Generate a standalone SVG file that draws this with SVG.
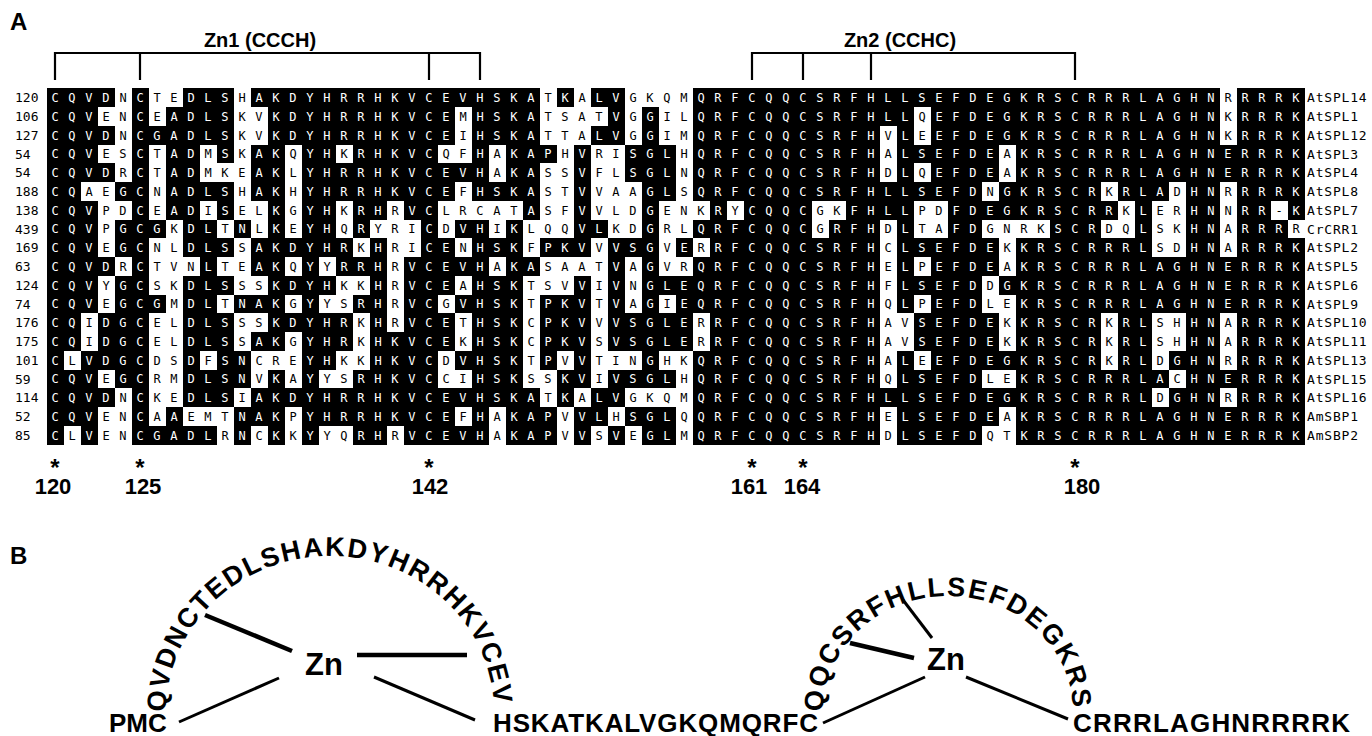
<svg xmlns="http://www.w3.org/2000/svg" width="1372" height="736" viewBox="0 0 1372 736">
<style>
.bg{fill:#fff}
.bk rect{fill:#000;shape-rendering:crispEdges}
.seq{font-family:"DejaVu Sans Mono","Liberation Mono",monospace;font-size:12px;letter-spacing:9.775px;fill:#000}
.w{fill:#fff}
.num{font-family:"DejaVu Sans Mono","Liberation Mono",monospace;font-size:13px;fill:#000}
.name{font-family:"DejaVu Sans Mono","Liberation Mono",monospace;font-size:13px;letter-spacing:0.8px;fill:#000}
.lbl{font-family:"Liberation Sans",Arial,sans-serif;font-weight:bold;fill:#000}
.br{stroke:#000;stroke-width:2.2;fill:none}
.thick{stroke:#000;stroke-width:4.5;fill:none}
.thin{stroke:#000;stroke-width:3;fill:none}
</style>
<rect class="bg" x="0" y="0" width="1372" height="736"/>
<text class="lbl" x="10" y="30" font-size="24">A</text>
<g id="zn1-bracket">
<text class="lbl" x="260" y="47" font-size="20" text-anchor="middle">Zn1 (CCCH)</text>
<path class="br" d="M55 80V53H480V80M140 53V80M429 53V80"/>
</g>
<g id="zn2-bracket">
<text class="lbl" x="900" y="47" font-size="20" text-anchor="middle">Zn2 (CCHC)</text>
<path class="br" d="M752 80V53H1075V80M803 53V80M871 53V80"/>
</g>
<g id="alignment">
<g id="r1" transform="translate(46.5 88.3)"><g class="bk"><rect x="0" width="68" height="18.8"/><rect x="85" width="17" height="18.8"/><rect x="136" width="51" height="18.8"/><rect x="204" width="289" height="18.8"/><rect x="510" width="17" height="18.8"/><rect x="544" width="34" height="18.8"/><rect x="646" width="527" height="18.8"/><rect x="1190" width="68" height="18.8"/></g><text class="num" x="-31.5" y="14">120</text><text class="seq" x="4.89" y="13.8"><tspan class="w">CQVD</tspan>N<tspan class="w">C</tspan>TE<tspan class="w">DLS</tspan>H<tspan class="w">AKDYHRRHKVCEVHSKA</tspan>T<tspan class="w">K</tspan>A<tspan class="w">LV</tspan>GKQM<tspan class="w">QRFCQQCSRFHLLSEFDEGKRSCRRRLAGHN</tspan>R<tspan class="w">RRRK</tspan></text><text class="name" x="1260.5" y="14">AtSPL14</text></g>
<g id="r2" transform="translate(46.5 107.05)"><g class="bk"><rect x="0" width="51" height="18.8"/><rect x="85" width="17" height="18.8"/><rect x="119" width="68" height="18.8"/><rect x="221" width="187" height="18.8"/><rect x="425" width="68" height="18.8"/><rect x="561" width="17" height="18.8"/><rect x="595" width="17" height="18.8"/><rect x="646" width="221" height="18.8"/><rect x="884" width="289" height="18.8"/><rect x="1190" width="68" height="18.8"/></g><text class="num" x="-31.5" y="14">106</text><text class="seq" x="4.89" y="13.8"><tspan class="w">CQV</tspan>EN<tspan class="w">C</tspan>E<tspan class="w">ADLS</tspan>KV<tspan class="w">KDYHRRHKVCE</tspan>M<tspan class="w">HSKA</tspan>TSAT<tspan class="w">V</tspan>G<tspan class="w">G</tspan>IL<tspan class="w">QRFCQQCSRFHLL</tspan>Q<tspan class="w">EFDEGKRSCRRRLAGHN</tspan>K<tspan class="w">RRRK</tspan></text><text class="name" x="1260.5" y="14">AtSPL1</text></g>
<g id="r3" transform="translate(46.5 125.8)"><g class="bk"><rect x="0" width="68" height="18.8"/><rect x="85" width="102" height="18.8"/><rect x="221" width="187" height="18.8"/><rect x="425" width="68" height="18.8"/><rect x="544" width="34" height="18.8"/><rect x="595" width="17" height="18.8"/><rect x="646" width="187" height="18.8"/><rect x="850" width="17" height="18.8"/><rect x="884" width="289" height="18.8"/><rect x="1190" width="68" height="18.8"/></g><text class="num" x="-31.5" y="14">127</text><text class="seq" x="4.89" y="13.8"><tspan class="w">CQVD</tspan>N<tspan class="w">CGADLS</tspan>KV<tspan class="w">KDYHRRHKVCE</tspan>I<tspan class="w">HSKA</tspan>TTA<tspan class="w">LV</tspan>G<tspan class="w">G</tspan>IM<tspan class="w">QRFCQQCSRFH</tspan>V<tspan class="w">L</tspan>E<tspan class="w">EFDEGKRSCRRRLAGHN</tspan>K<tspan class="w">RRRK</tspan></text><text class="name" x="1260.5" y="14">AtSPL12</text></g>
<g id="r4" transform="translate(46.5 144.55)"><g class="bk"><rect x="0" width="51" height="18.8"/><rect x="85" width="17" height="18.8"/><rect x="119" width="34" height="18.8"/><rect x="170" width="17" height="18.8"/><rect x="204" width="34" height="18.8"/><rect x="255" width="34" height="18.8"/><rect x="306" width="85" height="18.8"/><rect x="425" width="17" height="18.8"/><rect x="459" width="51" height="18.8"/><rect x="527" width="17" height="18.8"/><rect x="578" width="51" height="18.8"/><rect x="646" width="187" height="18.8"/><rect x="850" width="102" height="18.8"/><rect x="969" width="289" height="18.8"/></g><text class="num" x="-31.5" y="14">54</text><text class="seq" x="4.89" y="13.8"><tspan class="w">CQV</tspan>ES<tspan class="w">C</tspan>T<tspan class="w">AD</tspan>M<tspan class="w">S</tspan>K<tspan class="w">AK</tspan>Q<tspan class="w">YH</tspan>K<tspan class="w">RHKVC</tspan>QF<tspan class="w">H</tspan>A<tspan class="w">KAP</tspan>H<tspan class="w">V</tspan>RI<tspan class="w">SGL</tspan>H<tspan class="w">QRFCQQCSRFH</tspan>A<tspan class="w">LSEFDE</tspan>A<tspan class="w">KRSCRRRLAGHNERRRK</tspan></text><text class="name" x="1260.5" y="14">AtSPL3</text></g>
<g id="r5" transform="translate(46.5 163.3)"><g class="bk"><rect x="0" width="68" height="18.8"/><rect x="85" width="17" height="18.8"/><rect x="119" width="34" height="18.8"/><rect x="204" width="34" height="18.8"/><rect x="255" width="187" height="18.8"/><rect x="459" width="34" height="18.8"/><rect x="527" width="17" height="18.8"/><rect x="578" width="51" height="18.8"/><rect x="646" width="187" height="18.8"/><rect x="850" width="17" height="18.8"/><rect x="884" width="68" height="18.8"/><rect x="969" width="289" height="18.8"/></g><text class="num" x="-31.5" y="14">54</text><text class="seq" x="4.89" y="13.8"><tspan class="w">CQVD</tspan>R<tspan class="w">C</tspan>T<tspan class="w">AD</tspan>MKE<tspan class="w">AK</tspan>L<tspan class="w">YHRRHKVCEVH</tspan>A<tspan class="w">KA</tspan>SS<tspan class="w">V</tspan>FL<tspan class="w">SGL</tspan>N<tspan class="w">QRFCQQCSRFH</tspan>D<tspan class="w">L</tspan>Q<tspan class="w">EFDE</tspan>A<tspan class="w">KRSCRRRLAGHNERRRK</tspan></text><text class="name" x="1260.5" y="14">AtSPL4</text></g>
<g id="r6" transform="translate(46.5 182.05)"><g class="bk"><rect x="0" width="34" height="18.8"/><rect x="68" width="34" height="18.8"/><rect x="119" width="68" height="18.8"/><rect x="204" width="34" height="18.8"/><rect x="255" width="153" height="18.8"/><rect x="425" width="68" height="18.8"/><rect x="527" width="17" height="18.8"/><rect x="595" width="34" height="18.8"/><rect x="646" width="289" height="18.8"/><rect x="952" width="102" height="18.8"/><rect x="1071" width="51" height="18.8"/><rect x="1139" width="34" height="18.8"/><rect x="1190" width="68" height="18.8"/></g><text class="num" x="-31.5" y="14">188</text><text class="seq" x="4.89" y="13.8"><tspan class="w">CQ</tspan>AE<tspan class="w">GC</tspan>N<tspan class="w">ADLS</tspan>H<tspan class="w">AK</tspan>H<tspan class="w">YHRRHKVCE</tspan>F<tspan class="w">HSKA</tspan>ST<tspan class="w">V</tspan>VAA<tspan class="w">GL</tspan>S<tspan class="w">QRFCQQCSRFHLLSEFD</tspan>N<tspan class="w">GKRSCR</tspan>K<tspan class="w">RLA</tspan>D<tspan class="w">HN</tspan>R<tspan class="w">RRRK</tspan></text><text class="name" x="1260.5" y="14">AtSPL8</text></g>
<g id="r7" transform="translate(46.5 200.8)"><g class="bk"><rect x="0" width="51" height="18.8"/><rect x="85" width="17" height="18.8"/><rect x="119" width="34" height="18.8"/><rect x="170" width="17" height="18.8"/><rect x="221" width="17" height="18.8"/><rect x="255" width="34" height="18.8"/><rect x="306" width="34" height="18.8"/><rect x="357" width="34" height="18.8"/><rect x="476" width="17" height="18.8"/><rect x="527" width="17" height="18.8"/><rect x="595" width="17" height="18.8"/><rect x="663" width="17" height="18.8"/><rect x="697" width="68" height="18.8"/><rect x="799" width="68" height="18.8"/><rect x="901" width="170" height="18.8"/><rect x="1088" width="17" height="18.8"/><rect x="1139" width="34" height="18.8"/><rect x="1190" width="34" height="18.8"/><rect x="1241" width="17" height="18.8"/></g><text class="num" x="-31.5" y="14">138</text><text class="seq" x="4.89" y="13.8"><tspan class="w">CQV</tspan>PD<tspan class="w">C</tspan>E<tspan class="w">AD</tspan>I<tspan class="w">S</tspan>EL<tspan class="w">K</tspan>G<tspan class="w">YH</tspan>K<tspan class="w">RH</tspan>R<tspan class="w">VC</tspan>LRCAT<tspan class="w">A</tspan>SF<tspan class="w">V</tspan>VLD<tspan class="w">G</tspan>ENK<tspan class="w">R</tspan>Y<tspan class="w">CQQC</tspan>GK<tspan class="w">FHLL</tspan>PD<tspan class="w">FDEGKRSCRR</tspan>K<tspan class="w">L</tspan>ER<tspan class="w">HN</tspan>N<tspan class="w">RR</tspan>-<tspan class="w">K</tspan></text><text class="name" x="1260.5" y="14">AtSPL7</text></g>
<g id="r8" transform="translate(46.5 219.55)"><g class="bk"><rect x="0" width="51" height="18.8"/><rect x="68" width="51" height="18.8"/><rect x="136" width="34" height="18.8"/><rect x="187" width="17" height="18.8"/><rect x="221" width="17" height="18.8"/><rect x="255" width="34" height="18.8"/><rect x="306" width="17" height="18.8"/><rect x="374" width="17" height="18.8"/><rect x="408" width="34" height="18.8"/><rect x="459" width="17" height="18.8"/><rect x="527" width="34" height="18.8"/><rect x="595" width="17" height="18.8"/><rect x="646" width="119" height="18.8"/><rect x="782" width="51" height="18.8"/><rect x="850" width="17" height="18.8"/><rect x="901" width="34" height="18.8"/><rect x="1003" width="51" height="18.8"/><rect x="1088" width="17" height="18.8"/><rect x="1139" width="34" height="18.8"/><rect x="1190" width="51" height="18.8"/></g><text class="num" x="-31.5" y="14">439</text><text class="seq" x="4.89" y="13.8"><tspan class="w">CQV</tspan>P<tspan class="w">GCG</tspan>K<tspan class="w">DL</tspan>T<tspan class="w">N</tspan>L<tspan class="w">K</tspan>E<tspan class="w">YH</tspan>Q<tspan class="w">R</tspan>YRI<tspan class="w">C</tspan>D<tspan class="w">VH</tspan>I<tspan class="w">K</tspan>LQQ<tspan class="w">VL</tspan>KD<tspan class="w">G</tspan>RL<tspan class="w">QRFCQQC</tspan>G<tspan class="w">RFH</tspan>D<tspan class="w">L</tspan>TA<tspan class="w">FD</tspan>GNRK<tspan class="w">SCR</tspan>DQ<tspan class="w">L</tspan>SK<tspan class="w">HN</tspan>A<tspan class="w">RRR</tspan>R</text><text class="name" x="1260.5" y="14">CrCRR1</text></g>
<g id="r9" transform="translate(46.5 238.3)"><g class="bk"><rect x="0" width="51" height="18.8"/><rect x="68" width="34" height="18.8"/><rect x="136" width="51" height="18.8"/><rect x="204" width="102" height="18.8"/><rect x="323" width="17" height="18.8"/><rect x="374" width="34" height="18.8"/><rect x="425" width="51" height="18.8"/><rect x="493" width="51" height="18.8"/><rect x="561" width="51" height="18.8"/><rect x="629" width="17" height="18.8"/><rect x="663" width="170" height="18.8"/><rect x="850" width="102" height="18.8"/><rect x="969" width="136" height="18.8"/><rect x="1139" width="34" height="18.8"/><rect x="1190" width="68" height="18.8"/></g><text class="num" x="-31.5" y="14">169</text><text class="seq" x="4.89" y="13.8"><tspan class="w">CQV</tspan>E<tspan class="w">GC</tspan>NL<tspan class="w">DLS</tspan>S<tspan class="w">AKDYHR</tspan>K<tspan class="w">H</tspan>RI<tspan class="w">CE</tspan>N<tspan class="w">HSK</tspan>F<tspan class="w">PKV</tspan>V<tspan class="w">VSG</tspan>V<tspan class="w">E</tspan>R<tspan class="w">RFCQQCSRFH</tspan>C<tspan class="w">LSEFDE</tspan>K<tspan class="w">KRSCRRRL</tspan>SD<tspan class="w">HN</tspan>A<tspan class="w">RRRK</tspan></text><text class="name" x="1260.5" y="14">AtSPL2</text></g>
<g id="r10" transform="translate(46.5 257.05)"><g class="bk"><rect x="0" width="68" height="18.8"/><rect x="85" width="17" height="18.8"/><rect x="153" width="17" height="18.8"/><rect x="204" width="34" height="18.8"/><rect x="255" width="17" height="18.8"/><rect x="289" width="51" height="18.8"/><rect x="357" width="85" height="18.8"/><rect x="459" width="34" height="18.8"/><rect x="561" width="17" height="18.8"/><rect x="595" width="17" height="18.8"/><rect x="646" width="187" height="18.8"/><rect x="850" width="17" height="18.8"/><rect x="884" width="68" height="18.8"/><rect x="969" width="289" height="18.8"/></g><text class="num" x="-31.5" y="14">63</text><text class="seq" x="4.89" y="13.8"><tspan class="w">CQVD</tspan>R<tspan class="w">C</tspan>TVN<tspan class="w">L</tspan>TE<tspan class="w">AK</tspan>Q<tspan class="w">Y</tspan>Y<tspan class="w">RRH</tspan>R<tspan class="w">VCEVH</tspan>A<tspan class="w">KA</tspan>SAAT<tspan class="w">V</tspan>A<tspan class="w">G</tspan>VR<tspan class="w">QRFCQQCSRFH</tspan>E<tspan class="w">L</tspan>P<tspan class="w">EFDE</tspan>A<tspan class="w">KRSCRRRLAGHNERRRK</tspan></text><text class="name" x="1260.5" y="14">AtSPL5</text></g>
<g id="r11" transform="translate(46.5 275.8)"><g class="bk"><rect x="0" width="51" height="18.8"/><rect x="68" width="34" height="18.8"/><rect x="136" width="51" height="18.8"/><rect x="221" width="68" height="18.8"/><rect x="323" width="17" height="18.8"/><rect x="357" width="51" height="18.8"/><rect x="425" width="51" height="18.8"/><rect x="527" width="17" height="18.8"/><rect x="561" width="17" height="18.8"/><rect x="595" width="238" height="18.8"/><rect x="850" width="85" height="18.8"/><rect x="952" width="306" height="18.8"/></g><text class="num" x="-31.5" y="14">124</text><text class="seq" x="4.89" y="13.8"><tspan class="w">CQV</tspan>Y<tspan class="w">GC</tspan>SK<tspan class="w">DLS</tspan>SS<tspan class="w">KDYH</tspan>KK<tspan class="w">H</tspan>R<tspan class="w">VCE</tspan>A<tspan class="w">HSK</tspan>TSV<tspan class="w">V</tspan>I<tspan class="w">V</tspan>N<tspan class="w">GLEQRFCQQCSRFH</tspan>F<tspan class="w">LSEFD</tspan>D<tspan class="w">GKRSCRRRLAGHNERRRK</tspan></text><text class="name" x="1260.5" y="14">AtSPL6</text></g>
<g id="r12" transform="translate(46.5 294.55)"><g class="bk"><rect x="0" width="51" height="18.8"/><rect x="68" width="51" height="18.8"/><rect x="136" width="34" height="18.8"/><rect x="187" width="51" height="18.8"/><rect x="255" width="17" height="18.8"/><rect x="306" width="34" height="18.8"/><rect x="357" width="34" height="18.8"/><rect x="408" width="68" height="18.8"/><rect x="493" width="51" height="18.8"/><rect x="561" width="17" height="18.8"/><rect x="595" width="17" height="18.8"/><rect x="629" width="204" height="18.8"/><rect x="850" width="17" height="18.8"/><rect x="884" width="51" height="18.8"/><rect x="969" width="289" height="18.8"/></g><text class="num" x="-31.5" y="14">74</text><text class="seq" x="4.89" y="13.8"><tspan class="w">CQV</tspan>E<tspan class="w">GCG</tspan>M<tspan class="w">DL</tspan>T<tspan class="w">NAK</tspan>G<tspan class="w">Y</tspan>YS<tspan class="w">RH</tspan>R<tspan class="w">VC</tspan>G<tspan class="w">VHSK</tspan>T<tspan class="w">PKV</tspan>T<tspan class="w">V</tspan>A<tspan class="w">G</tspan>I<tspan class="w">EQRFCQQCSRFH</tspan>Q<tspan class="w">L</tspan>P<tspan class="w">EFD</tspan>LE<tspan class="w">KRSCRRRLAGHNERRRK</tspan></text><text class="name" x="1260.5" y="14">AtSPL9</text></g>
<g id="r13" transform="translate(46.5 313.3)"><g class="bk"><rect x="0" width="34" height="18.8"/><rect x="51" width="51" height="18.8"/><rect x="136" width="51" height="18.8"/><rect x="221" width="85" height="18.8"/><rect x="323" width="17" height="18.8"/><rect x="357" width="51" height="18.8"/><rect x="425" width="51" height="18.8"/><rect x="493" width="51" height="18.8"/><rect x="561" width="85" height="18.8"/><rect x="663" width="170" height="18.8"/><rect x="867" width="85" height="18.8"/><rect x="969" width="85" height="18.8"/><rect x="1071" width="34" height="18.8"/><rect x="1139" width="34" height="18.8"/><rect x="1190" width="68" height="18.8"/></g><text class="num" x="-31.5" y="14">176</text><text class="seq" x="4.89" y="13.8"><tspan class="w">CQ</tspan>I<tspan class="w">DGC</tspan>EL<tspan class="w">DLS</tspan>SS<tspan class="w">KDYHR</tspan>K<tspan class="w">H</tspan>R<tspan class="w">VCE</tspan>T<tspan class="w">HSK</tspan>C<tspan class="w">PKV</tspan>V<tspan class="w">VSGLE</tspan>R<tspan class="w">RFCQQCSRFH</tspan>AV<tspan class="w">SEFDE</tspan>K<tspan class="w">KRSCR</tspan>K<tspan class="w">RL</tspan>SH<tspan class="w">HN</tspan>A<tspan class="w">RRRK</tspan></text><text class="name" x="1260.5" y="14">AtSPL10</text></g>
<g id="r14" transform="translate(46.5 332.05)"><g class="bk"><rect x="0" width="34" height="18.8"/><rect x="51" width="51" height="18.8"/><rect x="136" width="51" height="18.8"/><rect x="204" width="34" height="18.8"/><rect x="255" width="51" height="18.8"/><rect x="323" width="85" height="18.8"/><rect x="425" width="51" height="18.8"/><rect x="493" width="51" height="18.8"/><rect x="561" width="85" height="18.8"/><rect x="663" width="170" height="18.8"/><rect x="867" width="85" height="18.8"/><rect x="969" width="85" height="18.8"/><rect x="1071" width="34" height="18.8"/><rect x="1139" width="34" height="18.8"/><rect x="1190" width="68" height="18.8"/></g><text class="num" x="-31.5" y="14">175</text><text class="seq" x="4.89" y="13.8"><tspan class="w">CQ</tspan>I<tspan class="w">DGC</tspan>EL<tspan class="w">DLS</tspan>S<tspan class="w">AK</tspan>G<tspan class="w">YHR</tspan>K<tspan class="w">HKVCE</tspan>K<tspan class="w">HSK</tspan>C<tspan class="w">PKV</tspan>S<tspan class="w">VSGLE</tspan>R<tspan class="w">RFCQQCSRFH</tspan>AV<tspan class="w">SEFDE</tspan>K<tspan class="w">KRSCR</tspan>K<tspan class="w">RL</tspan>SH<tspan class="w">HN</tspan>A<tspan class="w">RRRK</tspan></text><text class="name" x="1260.5" y="14">AtSPL11</text></g>
<g id="r15" transform="translate(46.5 350.8)"><g class="bk"><rect x="0" width="17" height="18.8"/><rect x="34" width="68" height="18.8"/><rect x="136" width="17" height="18.8"/><rect x="170" width="34" height="18.8"/><rect x="255" width="34" height="18.8"/><rect x="323" width="68" height="18.8"/><rect x="408" width="68" height="18.8"/><rect x="493" width="17" height="18.8"/><rect x="527" width="17" height="18.8"/><rect x="595" width="17" height="18.8"/><rect x="646" width="187" height="18.8"/><rect x="850" width="17" height="18.8"/><rect x="884" width="170" height="18.8"/><rect x="1071" width="34" height="18.8"/><rect x="1122" width="51" height="18.8"/><rect x="1190" width="68" height="18.8"/></g><text class="num" x="-31.5" y="14">101</text><text class="seq" x="4.89" y="13.8"><tspan class="w">C</tspan>L<tspan class="w">VDGC</tspan>DS<tspan class="w">D</tspan>F<tspan class="w">SN</tspan>CRE<tspan class="w">YH</tspan>KK<tspan class="w">HKVC</tspan>D<tspan class="w">VHSK</tspan>T<tspan class="w">P</tspan>V<tspan class="w">V</tspan>TIN<tspan class="w">G</tspan>HK<tspan class="w">QRFCQQCSRFH</tspan>A<tspan class="w">L</tspan>E<tspan class="w">EFDEGKRSCR</tspan>K<tspan class="w">RL</tspan>D<tspan class="w">GHN</tspan>R<tspan class="w">RRRK</tspan></text><text class="name" x="1260.5" y="14">AtSPL13</text></g>
<g id="r16" transform="translate(46.5 369.55)"><g class="bk"><rect x="0" width="51" height="18.8"/><rect x="68" width="34" height="18.8"/><rect x="136" width="68" height="18.8"/><rect x="221" width="17" height="18.8"/><rect x="255" width="17" height="18.8"/><rect x="306" width="85" height="18.8"/><rect x="425" width="51" height="18.8"/><rect x="510" width="34" height="18.8"/><rect x="561" width="68" height="18.8"/><rect x="646" width="187" height="18.8"/><rect x="850" width="85" height="18.8"/><rect x="969" width="153" height="18.8"/><rect x="1139" width="119" height="18.8"/></g><text class="num" x="-31.5" y="14">59</text><text class="seq" x="4.89" y="13.8"><tspan class="w">CQV</tspan>E<tspan class="w">GC</tspan>RM<tspan class="w">DLSN</tspan>V<tspan class="w">K</tspan>A<tspan class="w">Y</tspan>YS<tspan class="w">RHKVC</tspan>CI<tspan class="w">HSK</tspan>SS<tspan class="w">KV</tspan>I<tspan class="w">VSGL</tspan>H<tspan class="w">QRFCQQCSRFH</tspan>Q<tspan class="w">LSEFD</tspan>LE<tspan class="w">KRSCRRRLA</tspan>C<tspan class="w">HNERRRK</tspan></text><text class="name" x="1260.5" y="14">AtSPL15</text></g>
<g id="r17" transform="translate(46.5 388.3)"><g class="bk"><rect x="0" width="68" height="18.8"/><rect x="85" width="17" height="18.8"/><rect x="136" width="51" height="18.8"/><rect x="204" width="289" height="18.8"/><rect x="510" width="17" height="18.8"/><rect x="544" width="34" height="18.8"/><rect x="646" width="459" height="18.8"/><rect x="1122" width="51" height="18.8"/><rect x="1190" width="68" height="18.8"/></g><text class="num" x="-31.5" y="14">114</text><text class="seq" x="4.89" y="13.8"><tspan class="w">CQVD</tspan>N<tspan class="w">C</tspan>KE<tspan class="w">DLS</tspan>I<tspan class="w">AKDYHRRHKVCEVHSKA</tspan>T<tspan class="w">K</tspan>A<tspan class="w">LV</tspan>GKQM<tspan class="w">QRFCQQCSRFHLLSEFDEGKRSCRRRL</tspan>D<tspan class="w">GHN</tspan>R<tspan class="w">RRRK</tspan></text><text class="name" x="1260.5" y="14">AtSPL16</text></g>
<g id="r18" transform="translate(46.5 407.05)"><g class="bk"><rect x="0" width="51" height="18.8"/><rect x="85" width="17" height="18.8"/><rect x="119" width="17" height="18.8"/><rect x="187" width="51" height="18.8"/><rect x="255" width="153" height="18.8"/><rect x="425" width="17" height="18.8"/><rect x="459" width="51" height="18.8"/><rect x="527" width="34" height="18.8"/><rect x="578" width="51" height="18.8"/><rect x="646" width="187" height="18.8"/><rect x="850" width="102" height="18.8"/><rect x="969" width="289" height="18.8"/></g><text class="num" x="-31.5" y="14">52</text><text class="seq" x="4.89" y="13.8"><tspan class="w">CQV</tspan>EN<tspan class="w">C</tspan>A<tspan class="w">A</tspan>EMT<tspan class="w">NAK</tspan>P<tspan class="w">YHRRHKVCE</tspan>F<tspan class="w">H</tspan>A<tspan class="w">KAP</tspan>V<tspan class="w">VL</tspan>H<tspan class="w">SGL</tspan>Q<tspan class="w">QRFCQQCSRFH</tspan>E<tspan class="w">LSEFDE</tspan>A<tspan class="w">KRSCRRRLAGHNERRRK</tspan></text><text class="name" x="1260.5" y="14">AmSBP1</text></g>
<g id="r19" transform="translate(46.5 425.8)"><g class="bk"><rect x="0" width="17" height="18.8"/><rect x="34" width="17" height="18.8"/><rect x="85" width="85" height="18.8"/><rect x="187" width="17" height="18.8"/><rect x="221" width="17" height="18.8"/><rect x="255" width="17" height="18.8"/><rect x="306" width="34" height="18.8"/><rect x="357" width="85" height="18.8"/><rect x="459" width="51" height="18.8"/><rect x="527" width="17" height="18.8"/><rect x="561" width="17" height="18.8"/><rect x="595" width="34" height="18.8"/><rect x="646" width="187" height="18.8"/><rect x="850" width="85" height="18.8"/><rect x="969" width="289" height="18.8"/></g><text class="num" x="-31.5" y="14">85</text><text class="seq" x="4.89" y="13.8"><tspan class="w">C</tspan>L<tspan class="w">V</tspan>EN<tspan class="w">CGADL</tspan>R<tspan class="w">N</tspan>C<tspan class="w">K</tspan>K<tspan class="w">Y</tspan>YQ<tspan class="w">RH</tspan>R<tspan class="w">VCEVH</tspan>A<tspan class="w">KAP</tspan>V<tspan class="w">V</tspan>S<tspan class="w">V</tspan>E<tspan class="w">GL</tspan>M<tspan class="w">QRFCQQCSRFH</tspan>D<tspan class="w">LSEFD</tspan>QT<tspan class="w">KRSCRRRLAGHNERRRK</tspan></text><text class="name" x="1260.5" y="14">AmSBP2</text></g>
</g>
<g id="positions" class="lbl" text-anchor="middle">
<text x="55" y="476" font-size="24">*</text><text x="140" y="476" font-size="24">*</text><text x="429" y="476" font-size="24">*</text><text x="752" y="476" font-size="24">*</text><text x="803" y="476" font-size="24">*</text><text x="1075" y="476" font-size="24">*</text>
<text x="53" y="494" font-size="22">120</text><text x="143" y="494" font-size="22">125</text><text x="430" y="494" font-size="22">142</text><text x="749" y="494" font-size="22">161</text><text x="802" y="494" font-size="22">164</text><text x="1082" y="494" font-size="22">180</text>
</g>
<text class="lbl" x="10" y="564" font-size="24">B</text>
<defs>
<path id="arc1" d="M166 712A164 156 0 0 1 494 712"/>
<path id="arc2" d="M823 712A125 116 0 0 1 1073 712"/>
</defs>
<g id="zn-site-1">
<text class="lbl" font-size="27"><textPath href="#arc1" textLength="494" lengthAdjust="spacing">QVDNCTEDLSHAKDYHRRHKVCEV</textPath></text>
<text class="lbl" x="324" y="675" font-size="31" text-anchor="middle">Zn</text>
</g>
<g id="zn-site-2">
<text class="lbl" font-size="27"><textPath href="#arc2" textLength="374" lengthAdjust="spacing">QQCSRFHLLSEFDEGKRS</textPath></text>
<text class="lbl" x="946" y="670" font-size="31" text-anchor="middle">Zn</text>
</g>
<g id="connectors">
<line class="thick" x1="205" y1="615" x2="292" y2="651"/>
<line class="thick" x1="357" y1="655" x2="467" y2="655"/>
<line class="thin" x1="179" y1="722" x2="279" y2="678"/>
<line class="thin" x1="374" y1="677" x2="475" y2="720"/>
<line class="thin" x1="903" y1="600" x2="932" y2="638"/>
<line class="thick" x1="850" y1="643" x2="914" y2="658"/>
<line class="thin" x1="823" y1="723" x2="925" y2="677"/>
<line class="thin" x1="966" y1="677" x2="1068" y2="719"/>
</g>
<g id="chain">
<text class="lbl" x="109" y="732" font-size="26">PMC</text>
<text class="lbl" x="493" y="732" font-size="26" textLength="325" lengthAdjust="spacing">HSKATKALVGKQMQRFC</text>
<text class="lbl" x="1073" y="732" font-size="26" textLength="277" lengthAdjust="spacing">CRRRLAGHNRRRRK</text>
</g>
</svg>
